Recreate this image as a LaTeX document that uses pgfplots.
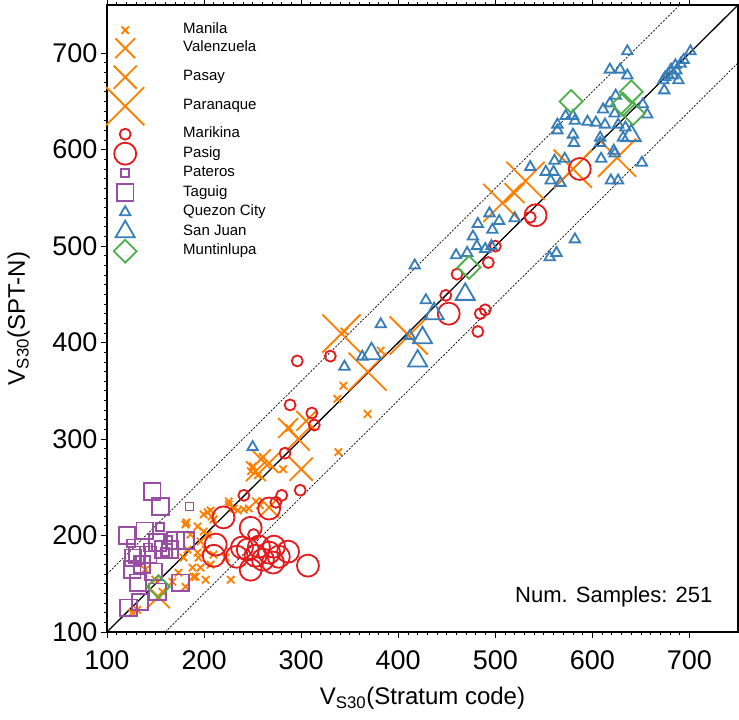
\documentclass[border=0pt]{standalone}
\usepackage{fontspec}
\setmainfont{Liberation Sans}
\usepackage{pgfplots}
\pgfplotsset{compat=1.18}
\definecolor{cOr}{HTML}{FF7F00}
\definecolor{cRe}{HTML}{E41A1C}
\definecolor{cPu}{HTML}{984EA3}
\definecolor{cBl}{HTML}{377EB8}
\definecolor{cGr}{HTML}{4DAF4A}
\pgfplotsset{
  legimg/.style 2 args={legend image code/.code={%
    \path[draw=none,fill=none] (-9pt,-#2) rectangle (9pt,#1);
    \draw[##1,overlay] plot coordinates {(0pt,0pt)};}},
  pts/.style={only marks, line width=1.8pt},
}
\begin{document}
\begin{tikzpicture}
\begin{axis}[
  name=ax, scale only axis, width=631pt, height=627pt,
  xmin=100, xmax=750, ymin=100, ymax=750,
  xtick={100,200,...,700}, ytick={100,200,...,700},
  minor tick num=9,
  tick align=outside,
  major tick length=6pt, minor tick length=3pt,
  every tick/.style={black, line width=0.8pt},
  axis line style={line width=1.4pt},
  tick label style={font=\fontsize{27}{32}\selectfont},
  xticklabel style={yshift=-9pt},
  /pgf/number format/assume math mode=true,
  xlabel={V\textsubscript{S30}(Stratum code)},
  ylabel={V\textsubscript{S30}(SPT-N)},
  label style={font=\fontsize{24}{28}\selectfont},
  xlabel style={at={(axis description cs:0.5,-0.1164)}, anchor=base},
  ylabel style={at={(axis description cs:-0.130,0.5)}, anchor=base},
  legend cell align=left,
  legend style={at={(axis description cs:0,1)}, anchor=north west,
    xshift=9pt, yshift=-16pt, draw=none, fill=none, inner sep=0pt,
    row sep=0pt, column sep=48.5pt, font=\fontsize{15}{18}\selectfont,
    nodes={inner sep=0.5pt, text height=11pt, text depth=3.5pt}},
]
% Manila
\addplot[pts, cOr, mark=x, mark size=5.2pt, legimg={9pt}{9pt}] coordinates {
(343.5,355.2)(337.3,341.7)(368.4,326)(338.3,286.5)(381.9,391.7)(344.6,411.5)(287.6,311.5)
(248.2,266.7)(255.4,262.5)(281.4,268.8)(250.3,271.9)(258.6,279.2)(199.5,221.9)(203.6,224)
(207.8,219.8)(209.8,216.7)(206.7,226)(225.4,232.3)(230.6,228.1)(234.7,226)(240.9,227.1)
(246.1,228.1)(253.4,235.4)(257.5,231.3)(225.4,235.4)(199.5,204.2)(203.6,201)(181.9,213.5)
(193.3,209.4)(186,201)(196.4,193.8)(182.9,185.4)(178.8,177.1)(194.3,177.1)(173.6,161.5)
(180.8,146.9)(167.4,152.1)(188.1,166.7)(196.4,166.7)(201.6,154.2)(206.7,169.8)(227.5,154.2)
(191.2,157.3)(180.8,211.5)(201.6,185.4)(193.3,182.3)(189.1,157.3)(149.7,154.2)(139.4,164.6)
(157,141.7)(131.1,122.9)(125.9,119.8)(222.3,177.1)(209.8,180.2)
};
\addlegendentry{Manila}
% Valenzuela
\addplot[pts, cOr, mark=x, mark size=14pt, legimg={9pt}{14.5pt}] coordinates {
(258.6,279.2)(266.8,275)(253.4,266.7)(286.5,311.5)(305.2,318.8)(266.8,229.2)(519.7,555)
};
\addlegendentry{Valenzuela}
% Pasay
\addplot[pts, cOr, mark=x, mark size=16.3pt, legimg={14.5pt}{14.5pt}] coordinates {
(300,268.8)(296.9,300)(152.9,136.5)
};
\addlegendentry{Pasay}
% Paranaque
\addplot[pts, cOr, mark=x, mark size=27pt, legimg={14.5pt}{18.25pt}] coordinates {
(341.5,409.4)(368.4,369.8)(410.9,407.3)(507.3,544.8)(531.1,567.7)(625.4,591.7)(579.8,580.2)
};
\addlegendentry{Paranaque}
% Marikina
\addplot[pts, cRe, mark=o, mark size=5.5pt, legimg={9.75pt}{9.75pt}] coordinates {
(296,381)(330,386)(288.6,335.4)(311,327)(313.5,314.6)(283.4,285.4)(500,500)(492.8,483)
(460.6,471)(449,449)(484.5,430)(489.6,434)(482,411.5)(536,530)(241,241.7)(280,241.7)
(299,247)(274,234.4)(251,201)
};
\addlegendentry{Marikina}
% Pasig
\addplot[pts, cRe, mark=o, mark size=11pt, legimg={9.75pt}{9.75pt}] coordinates {
(541.5,532)(587,580)(452,430)(220,218.8)(267,228)(248,208)(212,190.6)(210,179)(233.7,178)
(245,185.4)(253,179)(248,164.6)(260.6,175)(267,182.3)(272,188.5)(271,172)(286.5,183.3)
(277,178)(307,168.8)(256.5,188.5)(239,187.5)
};
\addlegendentry{Pasig}
% Pateros
\addplot[pts, cPu, mark=square, mark size=4pt, legimg={9.75pt}{9.75pt}] coordinates {
(185,230)(155,209)(125,191.7)(142.5,187.5)(160,183)(134,175)(163,195)
};
\addlegendentry{Pateros}
% Taguig
\addplot[pts, cPu, mark=square, mark size=8.3pt, legimg={9.75pt}{9.75pt}] coordinates {
(146.6,245.8)(155,230)(120.7,200)(139,205)(152,192.7)(170.5,194.8)(181,194.8)(131,180)
(142.5,180)(165,185.4)(126,164.6)(136,170)(147.7,162.5)(175.6,151)(152,141.7)(134,131)
(122,125)(132,151)(127,177)(158,185.4)
};
\addlegendentry{Taguig}
% Quezon City
\addplot[pts, cBl, mark=triangle, mark size=6pt, legimg={9.75pt}{9.75pt}] coordinates {
(636,702)(618,683)(628.5,683)(636,677)(701,702)(694,693)(691,689)(685.5,687.5)(681,683)
(678,678)(675,675)(686.5,682)(688.6,672)(673,672)(683,677)(674,661.5)(624,656)(618,648)
(611,641.7)(652,647)(656.5,636.5)(623,637.5)(572.5,635)(580,635)(582,630)(564,626)(564,620)
(595,629)(603.6,628)(613,626)(626.5,626)(634,623)(631.6,612.5)(580,615.6)(581,607)
(608,612.5)(608,607)(622,599)(623,596)(571.5,590.6)(561,588.5)(609,590.6)(651,586.5)
(536,582)(552,577)(560,577)(557,568)(567,565.6)(619,568)(626.5,568)(494,534)(504,526)
(520,529)(482,523)(497,517)(477,510)(481,500)(489.6,497)(496,500)(459.6,490.6)(471,493)
(556,488.5)(563,493)(582,507)(417,480)(428.5,444)(382,419)(363,385.4)(344.6,375)(412,407)
(250,291.7)
};
\addlegendentry{Quezon City}
% San Juan
\addplot[pts, cBl, mark=triangle, mark size=11pt, legimg={9.75pt}{9.75pt}] coordinates {
(469,450)(437,430)(425,405)(420,381)(372.5,388.5)(640,614.6)
};
\addlegendentry{San Juan}
% Muntinlupa
\addplot[pts, cGr, mark=square, mark size=8.1pt, mark options={rotate=45}, legimg={9.75pt}{9.75pt}] coordinates {
(578,650)(640,660)(631.6,647)(642,637.5)(473,478)(153,147)
};
\addlegendentry{Muntinlupa}
% reference lines
\addplot[black, line width=1.3pt, forget plot] coordinates {(100,100)(750,750)};
\addplot[black, line width=0.7pt, dash pattern=on 2pt off 1.5pt, forget plot] coordinates {(100,160)(690,750)};
\addplot[black, line width=0.7pt, dash pattern=on 2pt off 1.5pt, forget plot] coordinates {(160,100)(750,690)};
\node[anchor=base east, font=\fontsize{22}{26}\selectfont, xshift=-22pt, yshift=29pt] at (rel axis cs:1,0) {Num. Samples: 251};
\end{axis}
\pgfresetboundingbox
\path[use as bounding box] ([xshift=-107pt,yshift=-88pt]ax.south west) rectangle ([xshift=1pt,yshift=5pt]ax.north east);
\end{tikzpicture}
\end{document}
